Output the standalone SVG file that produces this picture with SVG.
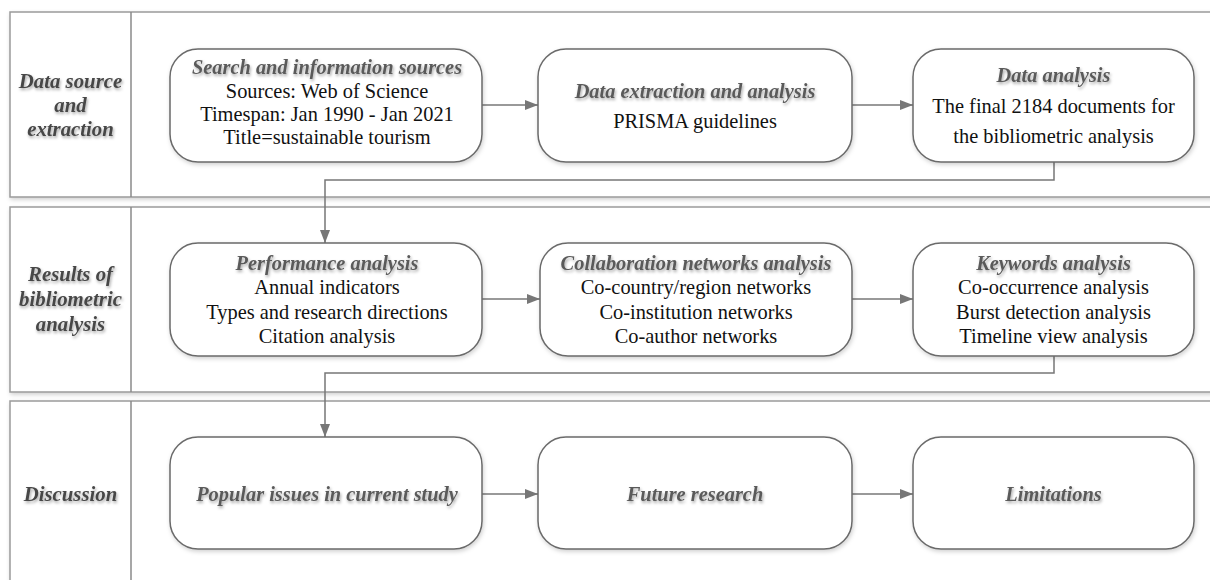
<svg xmlns="http://www.w3.org/2000/svg" width="1210" height="580" viewBox="0 0 1210 580">
<defs>
<filter id="ts" x="-10%" y="-40%" width="120%" height="180%"><feDropShadow dx="1" dy="2" stdDeviation="1.4" flood-color="#000" flood-opacity="0.35"/></filter>
<filter id="bs" x="-5%" y="-10%" width="110%" height="125%"><feDropShadow dx="1" dy="2" stdDeviation="2" flood-color="#000" flood-opacity="0.18"/></filter>
<marker id="ah" viewBox="0 0 13 10" refX="13" refY="5" markerWidth="13" markerHeight="10" markerUnits="userSpaceOnUse" orient="auto"><path d="M0,0 L13,5 L0,10 Z" fill="#777"/></marker>
</defs>
<style>
.band{fill:#fff;stroke:#9a9a9a;stroke-width:1.5}
.div{stroke:#8a8a8a;stroke-width:1.5}
.node{fill:#fff;stroke:#6a6a6a;stroke-width:1.5}
.lab{font-family:"Liberation Serif","Times New Roman",serif;font-size:20.8px;font-weight:bold;font-style:italic;fill:#474747;text-anchor:middle}
.ti{font-family:"Liberation Serif","Times New Roman",serif;font-size:20.4px;font-weight:bold;font-style:italic;fill:#5a5a5a;text-anchor:middle}
.tx{font-family:"Liberation Serif","Times New Roman",serif;font-size:20.4px;fill:#111;text-anchor:middle}
.con{fill:none;stroke:#777;stroke-width:1.5}
</style>
<rect width="1210" height="580" fill="#fff"/>
<g id="lanes">
<rect class="band" x="10" y="12" width="1230" height="185" filter="url(#bs)"/>
<line class="div" x1="131" y1="12" x2="131" y2="197"/>
<rect class="band" x="10" y="207" width="1230" height="185" filter="url(#bs)"/>
<line class="div" x1="131" y1="207" x2="131" y2="392"/>
<rect class="band" x="10" y="401" width="1230" height="200" filter="url(#bs)"/>
<line class="div" x1="131" y1="401" x2="131" y2="590"/>
</g>
<g id="lane-labels" filter="url(#ts)">
<text class="lab" x="70.5" y="88">Data source</text>
<text class="lab" x="70.5" y="112">and</text>
<text class="lab" x="70.5" y="136">extraction</text>
<text class="lab" x="70.5" y="281">Results of</text>
<text class="lab" x="70.5" y="306">bibliometric</text>
<text class="lab" x="70.5" y="331">analysis</text>
<text class="lab" x="70.5" y="501">Discussion</text>
</g>
<g id="connectors">
<line class="con" x1="482" y1="105" x2="538" y2="105" marker-end="url(#ah)"/>
<line class="con" x1="852" y1="105" x2="913" y2="105" marker-end="url(#ah)"/>
<polyline class="con" points="1054,162 1054,180 325,180 325,243" marker-end="url(#ah)"/>
<line class="con" x1="482" y1="299" x2="540" y2="299" marker-end="url(#ah)"/>
<line class="con" x1="852" y1="299" x2="913" y2="299" marker-end="url(#ah)"/>
<polyline class="con" points="1054,356 1054,373 325,373 325,437" marker-end="url(#ah)"/>
<line class="con" x1="482" y1="494" x2="538" y2="494" marker-end="url(#ah)"/>
<line class="con" x1="852" y1="494" x2="913" y2="494" marker-end="url(#ah)"/>
</g>
<g id="n1">
<rect class="node" x="170" y="49" width="312" height="113" rx="28" filter="url(#bs)"/>
<text class="ti" x="327" y="74" filter="url(#ts)">Search and information sources</text>
<text class="tx" x="327" y="98">Sources: Web of Science</text>
<text class="tx" x="327" y="121">Timespan: Jan 1990 - Jan 2021</text>
<text class="tx" x="327" y="144">Title=sustainable tourism</text>
</g>
<g id="n2">
<rect class="node" x="538" y="49" width="314" height="113" rx="28" filter="url(#bs)"/>
<text class="ti" x="695" y="98" filter="url(#ts)">Data extraction and analysis</text>
<text class="tx" x="695" y="128">PRISMA guidelines</text>
</g>
<g id="n3">
<rect class="node" x="913" y="49" width="281" height="113" rx="28" filter="url(#bs)"/>
<text class="ti" x="1053.5" y="82" filter="url(#ts)">Data analysis</text>
<text class="tx" x="1053.5" y="113">The final 2184 documents for</text>
<text class="tx" x="1053.5" y="143">the bibliometric analysis</text>
</g>
<g id="n4">
<rect class="node" x="170" y="243" width="312" height="113" rx="28" filter="url(#bs)"/>
<text class="ti" x="327" y="270" filter="url(#ts)">Performance analysis</text>
<text class="tx" x="327" y="294">Annual indicators</text>
<text class="tx" x="327" y="319">Types and research directions</text>
<text class="tx" x="327" y="343">Citation analysis</text>
</g>
<g id="n5">
<rect class="node" x="540" y="243" width="312" height="113" rx="28" filter="url(#bs)"/>
<text class="ti" x="696" y="270" filter="url(#ts)">Collaboration networks analysis</text>
<text class="tx" x="696" y="294">Co-country/region networks</text>
<text class="tx" x="696" y="319">Co-institution networks</text>
<text class="tx" x="696" y="343">Co-author networks</text>
</g>
<g id="n6">
<rect class="node" x="913" y="243" width="281" height="113" rx="28" filter="url(#bs)"/>
<text class="ti" x="1053.5" y="270" filter="url(#ts)">Keywords analysis</text>
<text class="tx" x="1053.5" y="294">Co-occurrence analysis</text>
<text class="tx" x="1053.5" y="319">Burst detection analysis</text>
<text class="tx" x="1053.5" y="343">Timeline view analysis</text>
</g>
<g id="n7">
<rect class="node" x="170" y="437" width="312" height="112" rx="28" filter="url(#bs)"/>
<text class="ti" x="327" y="501" filter="url(#ts)">Popular issues in current study</text>
</g>
<g id="n8">
<rect class="node" x="538" y="437" width="314" height="112" rx="28" filter="url(#bs)"/>
<text class="ti" x="695" y="501" filter="url(#ts)">Future research</text>
</g>
<g id="n9">
<rect class="node" x="913" y="437" width="281" height="112" rx="28" filter="url(#bs)"/>
<text class="ti" x="1053.5" y="501" filter="url(#ts)">Limitations</text>
</g>
</svg>
